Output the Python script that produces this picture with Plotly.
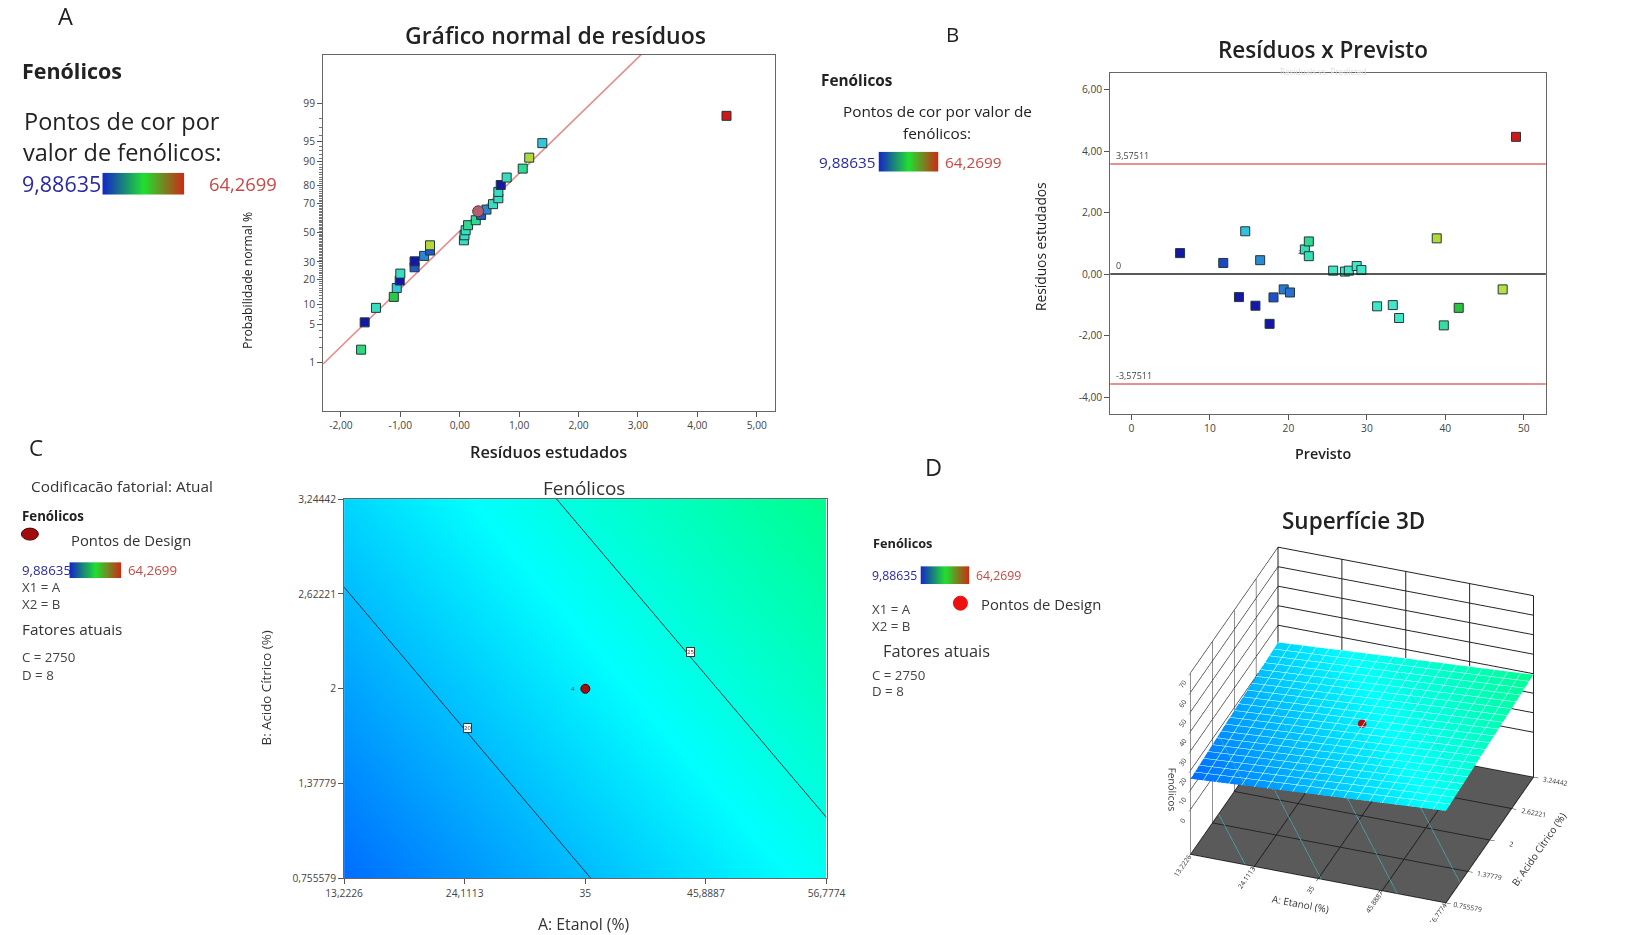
import plotly.graph_objects as go
from statistics import NormalDist

W, H = 1630, 935

# ---------------- data ----------------
resid_A = [-1.66, -1.60, -1.41, -1.11, -1.06, -1.01, -1.00, -0.76, -0.76, -0.60, -0.50, -0.50,
           0.07, 0.08, 0.10, 0.14, 0.27, 0.36, 0.45, 0.56, 0.65, 0.65, 0.69, 0.79, 1.06, 1.17, 1.39, 4.49]
prob_A = [1.8, 5.4, 8.9, 12.5, 16.1, 19.6, 23.2, 26.8, 30.4, 33.9, 37.5, 41.1,
          44.6, 48.2, 51.8, 55.4, 58.9, 62.5, 66.1, 69.6, 73.2, 76.8, 80.4, 83.9, 87.5, 91.1, 94.6, 98.2]
color_A = ['#2fd67c', '#1616a8', '#3adcc0', '#2ec848', '#34c6dc', '#1616a8', '#3adcc0', '#2358c8',
           '#1616a8', '#2a86d2', '#2358c8', '#b2d83a', '#3adcc0', '#3adcc0', '#3adcc0', '#30d890',
           '#30d890', '#2358c8', '#2a86d2', '#3adcc0', '#3adcc0', '#3adcc0', '#1616a8', '#3adcc0',
           '#30d890', '#b2d83a', '#34c6dc', '#d01818']
highlight_A = (0.31, 65.0)
line_mu, line_sigma = -0.03, 0.965
prob_ticks = [1, 5, 10, 20, 30, 50, 70, 80, 90, 95, 99]
resid_ticks = [-2, -1, 0, 1, 2, 3, 4, 5]
resid_ticktext = ['-2,00', '-1,00', '0,00', '1,00', '2,00', '3,00', '4,00', '5,00']

pred_B = [6.2, 11.7, 13.7, 14.5, 15.8, 16.4, 17.6, 18.1, 19.4, 20.2, 22.1, 22.6, 22.6,
          25.7, 27.2, 27.7, 28.7, 29.3, 31.3, 33.3, 34.1, 38.9, 39.8, 41.7, 47.3, 49.0]
resid_B = [0.68, 0.36, -0.75, 1.39, -1.03, 0.45, -1.62, -0.76, -0.50, -0.60, 0.80, 1.06, 0.58,
           0.11, 0.08, 0.11, 0.26, 0.13, -1.05, -1.01, -1.43, 1.16, -1.67, -1.10, -0.50, 4.46]
color_B = ['#1616a8', '#1e48c0', '#1616a8', '#34c0dc', '#1616a8', '#2a8ad2', '#1616a8', '#2050c8',
           '#2a78d0', '#2a70d0', '#34e0b4', '#30d890', '#34e0b4', '#40e6c8', '#40e6c8', '#40e6c8',
           '#40e6c8', '#40e6c8', '#40e6c8', '#40e6c8', '#40e6c8', '#b2d83a', '#38dca0', '#2ec040',
           '#b8e040', '#d01818']
limit_B = 3.57511
pred_ticks = [0, 10, 20, 30, 40, 50]
residB_ticks = [-4, -2, 0, 2, 4, 6]
residB_ticktext = ['-4,00', '-2,00', '0,00', '2,00', '4,00', '6,00']

etanol = [13.2226, 24.1113, 35, 45.8887, 56.7774]
etanol_text_c = ['13,2226', '24,1113', '35', '45,8887', '56,7774']
etanol_text_d = ['13.2226', '24.1113', '35', '45.8887', '56.7774']
citrico = [0.755579, 1.37779, 2, 2.62221, 3.24442]
citrico_text_c = ['0,755579', '1,37779', '2', '2,62221', '3,24442']
citrico_text_d = ['0.755579', '1.37779', '2', '2.62221', '3.24442']
fenolicos = [
    [15.7, 17.8, 19.9, 22.0, 24.1],
    [17.1, 19.2, 21.3, 23.4, 25.5],
    [18.5, 20.6, 22.7, 24.8, 26.9],
    [19.9, 22.0, 24.1, 26.2, 28.2],
    [21.3, 23.4, 25.5, 27.5, 29.6],
]
design_point = (35, 2, 22.7)
fen_min, fen_max = 9.88635, 64.2699
z_ticks = [0, 10, 20, 30, 40, 50, 60, 70]

# ---------------- placement helpers (target picture pixels -> paper) ----------------
SX, OX, SY, OY = 0.9777, 17.6, 0.9839, 7.5
FS = 1 / 0.978

def fx(px):
    return (px - OX) / SX / W

def fy(py):
    return 1 - (py - OY) / SY / H

nd = NormalDist()
de_scale = [[0, '#0000ff'], [0.25, '#00ffff'], [0.5, '#00ff00'], [0.75, '#ffff00'], [1, '#ff0000']]
legend_scale = [[0, '#1428c8'], [0.5, '#20e030'], [1, '#d02814']]
TXT = '#333333'
FONT = 'Open Sans'

fig = go.Figure()

line_x = [-2.3, 5.3]
fig.add_trace(go.Scatter(x=line_x, y=[(v - line_mu) / line_sigma for v in line_x], mode='lines',
                         line=dict(color='#e98a8a', width=1.6), xaxis='x', yaxis='y',
                         hoverinfo='skip', showlegend=False))
fig.add_trace(go.Scatter(x=resid_A, y=[nd.inv_cdf(p / 100) for p in prob_A], mode='markers',
                         marker=dict(symbol='square', size=9, color=color_A,
                                     line=dict(color='#203838', width=1)),
                         xaxis='x', yaxis='y', showlegend=False))
fig.add_trace(go.Scatter(x=[highlight_A[0]], y=[nd.inv_cdf(highlight_A[1] / 100)], mode='markers',
                         marker=dict(symbol='circle', size=11, color='#b06070',
                                     line=dict(color='#603030', width=1)),
                         xaxis='x', yaxis='y', showlegend=False))

fig.add_trace(go.Scatter(x=pred_B, y=resid_B, mode='markers',
                         marker=dict(symbol='square', size=9, color=color_B,
                                     line=dict(color='#203838', width=1)),
                         xaxis='x2', yaxis='y2', showlegend=False))

fig.add_trace(go.Contour(x=etanol, y=citrico, z=fenolicos, colorscale=de_scale,
                         zmin=fen_min, zmax=fen_max, zauto=False, showscale=False,
                         autocontour=False, contours=dict(start=20, end=25, size=5, coloring='heatmap',
                                                          showlines=True),
                         line=dict(color='#1c2c3c', width=1), xaxis='x3', yaxis='y3'))
fig.add_trace(go.Scatter(x=[design_point[0]], y=[design_point[1]], mode='markers',
                         marker=dict(size=9, color='#a01010', line=dict(color='#400000', width=1)),
                         xaxis='x3', yaxis='y3', showlegend=False))

grad = [list(range(0, 101))]
bars = [(101, 183, 173, 195), (878, 938, 152, 172), (68, 120, 562, 578), (920, 969, 566, 584)]
for i, (x0, x1, y0, y1) in enumerate(bars):
    n = 4 + i
    fig.add_trace(go.Heatmap(z=grad, colorscale=legend_scale, showscale=False, zsmooth='best',
                             xaxis=f'x{n}', yaxis=f'y{n}', hoverinfo='skip'))
    fig.update_layout(**{
        f'xaxis{n}': dict(domain=[fx(x0), fx(x1)], visible=False, fixedrange=True),
        f'yaxis{n}': dict(domain=[fy(y1), fy(y0)], visible=False, fixedrange=True),
    })

fig.add_trace(go.Surface(x=etanol, y=citrico, z=fenolicos, colorscale=de_scale,
                         cmin=fen_min, cmax=fen_max, showscale=False,
                         contours=dict(
                             x=dict(show=True, start=13.2226, end=56.7774, size=2.17774,
                                    color='rgba(225,250,255,0.9)', width=1),
                             y=dict(show=True, start=0.755579, end=3.24442, size=0.124442,
                                    color='rgba(225,250,255,0.9)', width=1),
                             z=dict(show=True, start=17.5, end=27.5, size=2.5, usecolormap=False,
                                    color='#3cc4d4', width=4, project=dict(z=True))),
                         lighting=dict(ambient=0.75, diffuse=0.5, specular=0.1),
                         scene='scene'))
fig.add_trace(go.Scatter3d(x=[design_point[0]], y=[design_point[1]], z=[design_point[2] + 1.5],
                           mode='markers', marker=dict(size=5, color='#b01010'),
                           scene='scene', showlegend=False))

axis_common = dict(showline=True, mirror=True, linecolor='#666666', linewidth=1, showgrid=False,
                   zeroline=False, ticks='outside', ticklen=5, tickcolor='#555555',
                   tickfont=dict(size=10 * FS, color='#444444', family=FONT))

scene_axis = dict(showbackground=True, backgroundcolor='white', gridcolor='#222222',
                  showspikes=False, tickfont=dict(size=9, color='#333333', family=FONT),
                  linecolor='#222222', showline=True, ticks='outside', tickcolor='#222222',
                  zeroline=False)

fig.update_layout(
    width=W, height=H, margin=dict(l=0, r=0, t=0, b=0),
    paper_bgcolor='white', plot_bgcolor='white',
    font=dict(family=FONT, color=TXT),
    showlegend=False,
    xaxis=dict(domain=[fx(322), fx(774)], range=[-2.3, 5.3], tickmode='array',
               tickvals=resid_ticks, ticktext=resid_ticktext, anchor='y', **axis_common),
    yaxis=dict(domain=[fy(411), fy(55)], range=[-3.196, 3.196], tickmode='array',
               tickvals=[nd.inv_cdf(p / 100) for p in prob_ticks], ticktext=[str(p) for p in prob_ticks],
               minor=dict(tickmode='array', tickvals=[nd.inv_cdf(p / 100) for p in range(1, 100)],
                          ticklen=3, ticks='outside', tickcolor='#777777'),
               anchor='x', **axis_common),
    xaxis2=dict(domain=[fx(1110), fx(1546)], range=[-2.7, 52.8], tickmode='array',
                tickvals=pred_ticks, ticktext=[str(v) for v in pred_ticks], anchor='y2', **axis_common),
    yaxis2=dict(domain=[fy(414), fy(73)], range=[-4.55, 6.55], tickmode='array',
                tickvals=residB_ticks, ticktext=residB_ticktext, anchor='x2', **axis_common),
    xaxis3=dict(domain=[fx(343), fx(826)], range=[13.2226, 56.7774], tickmode='array',
                tickvals=etanol, ticktext=etanol_text_c, anchor='y3', **axis_common),
    yaxis3=dict(domain=[fy(878), fy(499)], range=[0.755579, 3.24442], tickmode='array',
                tickvals=citrico, ticktext=citrico_text_c, anchor='x3', **axis_common),
    scene=dict(
        domain=dict(x=[1120 / W, 1.0], y=[1 - 929 / H, 1 - 529 / H]),
        xaxis=dict(range=[13.2226, 56.7774], tickvals=etanol, ticktext=etanol_text_d,
                   title=dict(text='A: Etanol (%)', font=dict(size=10, family=FONT)), **scene_axis),
        yaxis=dict(range=[0.755579, 3.24442], tickvals=citrico, ticktext=citrico_text_d,
                   title=dict(text='B: Acido Cítrico (%)', font=dict(size=10, family=FONT)), **scene_axis),
        zaxis=dict(range=[-23, 70], tickvals=z_ticks, ticktext=[str(v) for v in z_ticks],
                   title=dict(text='Fenólicos', font=dict(size=10, family=FONT)),
                   **{**scene_axis, 'backgroundcolor': '#5a5a5a'}),
        aspectmode='manual', aspectratio=dict(x=1.38, y=1.30, z=1.08),
        camera=dict(eye=dict(x=0.583, y=-1.603, z=1.045), center=dict(x=0, y=0, z=0),
                    projection=dict(type='orthographic')),
    ),
)

for yv, col in [(limit_B, '#e06a6a'), (-limit_B, '#e06a6a'), (0, '#222222')]:
    fig.add_shape(type='line', xref='x2 domain', yref='y2', x0=0, x1=1, y0=yv, y1=yv,
                  line=dict(color=col, width=1.5))

fig.add_shape(type='circle', xref='paper', yref='paper', x0=fx(20), x1=fx(37), y0=fy(540), y1=fy(528),
              fillcolor='#a00c0c', line=dict(color='#500000', width=1))
fig.add_shape(type='circle', xref='paper', yref='paper', x0=fx(953), x1=fx(967), y0=fy(610), y1=fy(596),
              fillcolor='#ee1010', line=dict(color='#ee1010', width=1))

def ann(text, x, y, size, color=TXT, weight=400, xanchor='left', yanchor='middle', **kw):
    fig.add_annotation(text=text, x=max(fx(x), 0.0005), y=fy(y), xref='paper', yref='paper',
                       showarrow=False, xanchor=xanchor, yanchor=yanchor,
                       font=dict(size=size * FS, color=color, family=FONT, weight=weight), **kw)

BLUE, RED = '#2a2aa0', '#c84848'
ann('A', 64, 16, 23, '#222222', xanchor='center')
ann('Fenólicos', 15, 71, 21, '#222222', 700)
ann('Pontos de cor por', 121, 121, 23, '#222222', xanchor='center')
ann('valor de fenólicos:', 121, 152, 23, '#222222', xanchor='center')
ann('9,88635', 14, 184, 21, BLUE)
ann('64,2699', 206, 184, 18, RED)
ann('Gráfico normal de resíduos', 555, 35, 22.5, '#222222', 600, xanchor='center')
ann('Resíduos estudados', 548, 452, 16, '#222222', 600, xanchor='center')
ann('Probabilidade normal %', 247, 281, 12, '#222222', xanchor='center', textangle=-90)

ann('B', 952, 34, 20, '#222222', xanchor='center')
ann('Fenólicos', 818, 80, 15, '#222222', 700)
ann('Pontos de cor por valor de', 937, 111, 15, '#222222', xanchor='center')
ann('fenólicos:', 937, 133, 15, '#222222', xanchor='center')
ann('9,88635', 816, 162, 15, BLUE)
ann('64,2699', 943, 162, 15, RED)
ann('Resíduos x Previsto', 1323, 50, 22, '#222222', 600, xanchor='center')
ann('Residuals vs. Predicted', 1323, 72, 8, '#dddddd', xanchor='center')
ann('Previsto', 1323, 453, 14, '#222222', 600, xanchor='center')
ann('Resíduos estudados', 1040, 247, 13.5, '#222222', xanchor='center', textangle=-90)
for yv, txt in [(limit_B, '3,57511'), (0, '0'), (-limit_B, '-3,57511')]:
    fig.add_annotation(text=txt, x=0.008, y=yv, xref='x2 domain', yref='y2', showarrow=False,
                       xanchor='left', yanchor='bottom', font=dict(size=9, color='#444444', family=FONT))
fig.add_annotation(text='2', x=21.5, y=0.70, xref='x2', yref='y2', showarrow=False,
                   font=dict(size=6, color='#444444', family=FONT))

ann('C', 35, 447, 22, '#222222', xanchor='center')
ann('Codificacão fatorial: Atual', 28, 486, 15, '#333333')
ann('Fenólicos', 15, 516, 13, '#222222', 700)
ann('Pontos de Design', 68, 540, 14.5, '#333333')
ann('9,88635', 14, 570, 13, BLUE)
ann('64,2699', 125, 570, 13, RED)
ann('X1 = A', 14, 587, 13, '#444444')
ann('X2 = B', 14, 604, 13, '#444444')
ann('Fatores atuais', 19, 629, 15, '#333333')
ann('C = 2750', 14, 657, 13, '#444444')
ann('D = 8', 14, 675, 13, '#444444')
ann('Fenólicos', 583, 488, 18.5, '#333333', xanchor='center')
ann('A: Etanol (%)', 583, 923, 15.5, '#333333', xanchor='center')
ann('B: Acido Cítrico (%)', 265, 688, 13, '#333333', xanchor='center', textangle=-90)
for xv, yv, txt in [(24.41, 1.746, '20'), (44.46, 2.242, '25')]:
    fig.add_annotation(text=txt, x=xv, y=yv, xref='x3', yref='y3', showarrow=False,
                       bgcolor='white', bordercolor='#333333', borderwidth=1, borderpad=0,
                       font=dict(size=6, color='#333333', family=FONT))
fig.add_annotation(text='4', x=33.9, y=2.0, xref='x3', yref='y3', showarrow=False,
                   font=dict(size=6, color='#333333', family=FONT))

ann('D', 933, 467, 23, '#222222', xanchor='center')
ann('Fenólicos', 870, 543, 12.5, '#222222', 700)
ann('9,88635', 869, 575, 12, BLUE)
ann('64,2699', 974, 575, 12, RED)
ann('Pontos de Design', 979, 604, 14.5, '#333333')
ann('X1 = A', 869, 609, 13, '#444444')
ann('X2 = B', 869, 626, 13, '#444444')
ann('Fatores atuais', 880, 651, 16, '#333333')
ann('C = 2750', 869, 675, 13, '#444444')
ann('D = 8', 869, 691, 13, '#444444')
ann('Superfície 3D', 1353, 520, 22, '#222222', 600, xanchor='center')

fig.write_html('out.html')
